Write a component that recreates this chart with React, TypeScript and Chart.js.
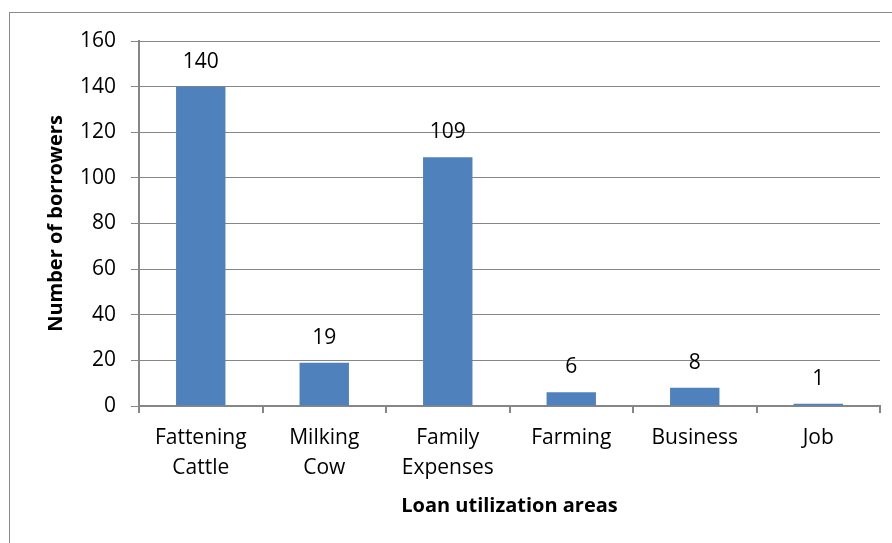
import React, { useEffect, useRef } from "react";
import { Chart, registerables } from "chart.js";

Chart.register(...registerables);

const categories: (string | string[])[] = [
  ["Fattening", "Cattle"],
  ["Milking", "Cow"],
  ["Family", "Expenses"],
  "Farming",
  "Business",
  "Job",
];
const borrowers: number[] = [140, 19, 109, 6, 8, 1];
const yTicks: number[] = [0, 20, 40, 60, 80, 100, 120, 140, 160];
const xTitle = "Loan utilization areas";
const yTitle = "Number of borrowers";

const FONT = "'Open Sans', 'Liberation Sans', sans-serif";
const GRAY = "#868686";

const valueLabels = {
  id: "valueLabels",
  afterDatasetsDraw(chart: any) {
    const ctx = chart.ctx;
    const meta = chart.getDatasetMeta(0);
    ctx.save();
    ctx.font = `21px ${FONT}`;
    ctx.fillStyle = "#000000";
    ctx.textAlign = "center";
    ctx.textBaseline = "middle";
    meta.data.forEach((bar: any, i: number) => {
      ctx.fillText(String(borrowers[i]), bar.x, bar.y - 25);
    });
    ctx.restore();
  },
};

export default function App() {
  const ref = useRef<HTMLCanvasElement | null>(null);

  useEffect(() => {
    if (!ref.current) return;
    const chart = new Chart(ref.current, {
      type: "bar",
      data: {
        labels: categories,
        datasets: [
          {
            data: borrowers,
            backgroundColor: "#4F81BD",
            borderWidth: 0,
            barPercentage: 0.4,
            categoryPercentage: 1,
          },
        ],
      },
      options: {
        responsive: false,
        animation: false,
        layout: { padding: { top: 41, right: 12, bottom: 0, left: 0 } },
        plugins: {
          legend: { display: false },
          tooltip: { enabled: false },
        },
        scales: {
          x: {
            afterFit: (s: any) => {
              s.height = 137;
            },
            grid: {
              display: true,
              drawOnChartArea: false,
              drawTicks: true,
              offset: true,
              tickLength: 7,
              color: GRAY,
              lineWidth: 2,
            },
            border: { display: true, color: GRAY, width: 2 },
            ticks: {
              color: "#000000",
              padding: 10,
              font: { family: FONT, size: 21, lineHeight: 1.43 },
              maxRotation: 0,
              autoSkip: false,
            },
            title: {
              display: true,
              text: xTitle,
              color: "#000000",
              font: { family: FONT, size: 20, weight: "bold" },
              padding: { top: 0, bottom: 25 },
            },
          },
          y: {
            min: 0,
            max: 160,
            afterFit: (s: any) => {
              s.width = 139;
            },
            afterBuildTicks: (s: any) => {
              s.ticks = yTicks.map((v) => ({ value: v }));
            },
            grid: {
              color: GRAY,
              lineWidth: 1,
              drawTicks: true,
              tickLength: 8,
            },
            border: { display: true, color: GRAY, width: 2 },
            ticks: {
              color: "#000000",
              padding: 15,
              font: { family: FONT, size: 21 },
            },
            title: {
              display: true,
              text: yTitle,
              color: "#000000",
              font: { family: FONT, size: 20, weight: "bold" },
              padding: { top: 44, bottom: 0 },
            },
          },
        },
      },
      plugins: [valueLabels],
    });
    return () => chart.destroy();
  }, []);

  return (
    <div
      style={{
        position: "absolute",
        left: 0,
        top: 0,
        width: 892,
        height: 543,
        overflow: "hidden",
        background: "#ffffff",
      }}
    >
      <div
        style={{
          position: "absolute",
          left: 9,
          top: 12,
          width: 1000,
          height: 1000,
          border: "1px solid #8a8a8a",
        }}
      />
      <canvas
        ref={ref}
        width={892}
        height={543}
        style={{ position: "absolute", left: 0, top: 0 }}
      />
    </div>
  );
}
